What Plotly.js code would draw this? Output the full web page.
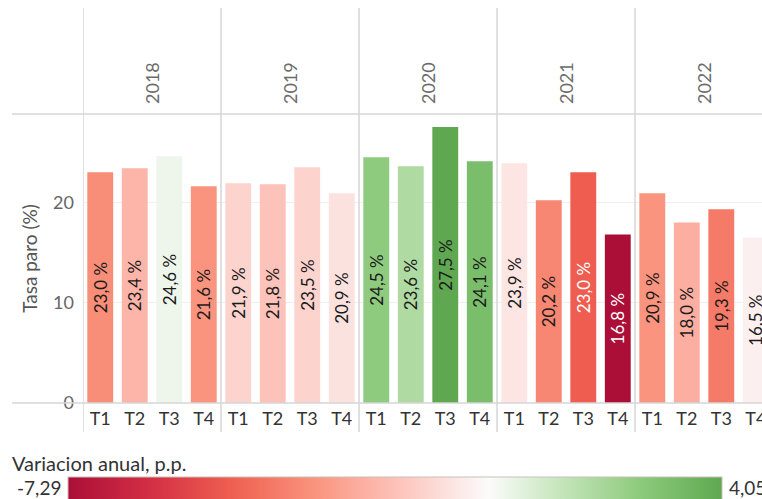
<!DOCTYPE html>
<html>
<head>
<meta charset="utf-8">
<script src="https://cdn.plot.ly/plotly-3.0.1.min.js"></script>
<style>
html,body{margin:0;padding:0;background:#fff;overflow:hidden;}
#chart{width:762px;height:499px;}
</style>
</head>
<body>
<div id="chart"></div>
<script>
// ---- Data ----
const years = ['2018', '2019', '2020', '2021', '2022'];
const quarters = ['T1', 'T2', 'T3', 'T4'];
const tasaParo = [
  23.0, 23.4, 24.6, 21.6,
  21.9, 21.8, 23.5, 20.9,
  24.5, 23.6, 27.5, 24.1,
  23.9, 20.2, 23.0, 16.8,
  20.9, 18.0, 19.3, 16.5
];
const variacionAnual = [
  -3.2, -2.0, 0.3, -3.0,
  -1.1, -1.6, -1.1, -0.7,
  2.6, 1.8, 4.05, 3.2,
  -0.6, -3.4, -4.5, -7.29,
  -3.0, -2.2, -3.7, -0.3
];
const colorMin = -7.29;
const colorMax = 4.05;
const colorMinLabel = '-7,29';
const colorMaxLabel = '4,05';

// ---- Build ----
const xIdx = tasaParo.map((_, i) => i);
const tickText = [];
years.forEach(() => quarters.forEach(q => tickText.push(q)));

const FONT = 'Lato, "Noto Sans", sans-serif';

const trace = {
  type: 'bar',
  x: xIdx,
  y: tasaParo,
  width: 0.75,
  texttemplate: '%{y:.1f} %',
  textposition: 'inside',
  insidetextanchor: 'middle',
  textangle: -90,
  constraintext: 'none',
  cliponaxis: true,
  textfont: {
    family: FONT,
    size: 17,
    color: variacionAnual.map(v => v < -4 ? '#ffffff' : '#1a1a1a')
  },
  marker: {
    color: variacionAnual,
    cmin: colorMin,
    cmax: colorMax,
    colorscale: [
      [0, '#ab0f37'],
      [0.12, '#d22d44'],
      [0.25, '#ef5f50'],
      [0.38, '#fa957f'],
      [0.5, '#fdc1b8'],
      [0.643, '#fbfbfb'],
      [0.75, '#c6e6bd'],
      [0.88, '#8bc97a'],
      [1, '#5fa851']
    ],
    line: {width: 0},
    showscale: true,
    colorbar: {
      orientation: 'h',
      lenmode: 'pixels',
      len: 654,
      thicknessmode: 'pixels',
      thickness: 30,
      x: (68 - 83) / 679,
      xanchor: 'left',
      xref: 'paper',
      y: (403 - 477) / 289,
      yanchor: 'top',
      yref: 'paper',
      outlinewidth: 1,
      outlinecolor: '#c8c2b8',
      showticklabels: false,
      ticks: '',
      xpad: 0,
      ypad: 0,
      title: {text: ''}
    }
  },
  hoverinfo: 'skip'
};

const shapes = [];
// vertical panel separators (including left edge)
[-0.5, 3.5, 7.5, 11.5, 15.5].forEach(xv => {
  shapes.push({type: 'line', xref: 'x', yref: 'paper', x0: xv, x1: xv,
    y0: (403 - 432) / 289, y1: (403 - 8) / 289,
    line: {color: '#d6d6d6', width: 1.5}, layer: 'above'});
});
// horizontal lines (top of plot and bottom axis)
[0, 1].forEach(yv => {
  shapes.push({type: 'line', xref: 'paper', yref: 'paper',
    x0: (12 - 83) / 679, x1: 1.02, y0: yv, y1: yv,
    line: {color: '#d6d6d6', width: 1.5}, layer: 'above'});
});

const annotations = [];
years.forEach((yr, k) => {
  annotations.push({
    xref: 'x', yref: 'paper', x: k * 4 + 1.5, y: (403 - 60) / 289,
    text: yr, showarrow: false, textangle: -90,
    font: {family: FONT, size: 18, color: '#6b6b6b'}
  });
});
annotations.push({
  xref: 'paper', yref: 'paper', x: (10 - 83) / 679, y: (403 - 463) / 289,
  xanchor: 'left', yanchor: 'middle', text: 'Variacion anual, p.p.', showarrow: false,
  font: {family: FONT, size: 20, color: '#333'}
});
annotations.push({
  xref: 'paper', yref: 'paper', x: (63 - 83) / 679, y: (403 - 487) / 289,
  xanchor: 'right', yanchor: 'middle', text: colorMinLabel, showarrow: false,
  font: {family: FONT, size: 19, color: '#333'}
});
annotations.push({
  xref: 'paper', yref: 'paper', x: (727 - 83) / 679, y: (403 - 487) / 289,
  xanchor: 'left', yanchor: 'middle', text: colorMaxLabel, showarrow: false,
  font: {family: FONT, size: 19, color: '#333'}
});

const layout = {
  width: 762,
  height: 499,
  margin: {l: 83, r: 0, t: 114, b: 96, pad: 0, autoexpand: false},
  paper_bgcolor: '#ffffff',
  plot_bgcolor: '#ffffff',
  separators: ',.',
  showlegend: false,
  font: {family: FONT, size: 16, color: '#333'},
  xaxis: {
    range: [-0.5, 19.18],
    tickvals: xIdx,
    ticktext: tickText,
    showgrid: false,
    zeroline: false,
    showline: false,
    ticks: '',
    automargin: false,
    ticklabelstandoff: 3,
    ticklabeloverflow: 'allow',
    tickfont: {family: FONT, size: 18, color: '#333'},
    fixedrange: true
  },
  yaxis: {
    range: [0, 28.8],
    tickvals: [0, 10, 20],
    showgrid: true,
    gridcolor: '#efefef',
    zeroline: false,
    showline: false,
    ticks: '',
    automargin: false,
    ticklabelstandoff: 8,
    tickfont: {family: FONT, size: 18, color: '#666'},
    title: {text: 'Tasa paro (%)', standoff: 10, font: {family: FONT, size: 19, color: '#555'}},
    fixedrange: true
  },
  shapes: shapes,
  annotations: annotations
};

Plotly.newPlot('chart', [trace], layout, {displayModeBar: false, staticPlot: true});
</script>
</body>
</html>
